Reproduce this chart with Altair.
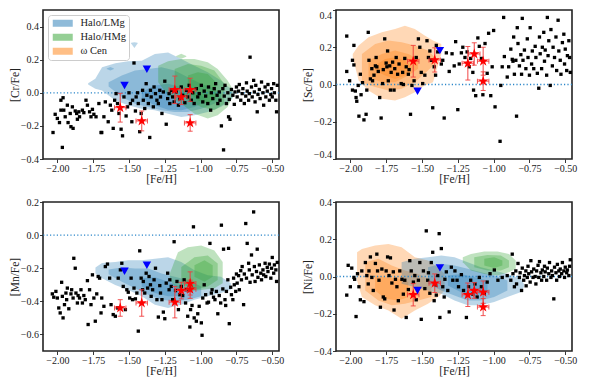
import altair as alt
import pandas as pd

FONT = "Liberation Serif, DejaVu Serif, serif"
X_DOMAIN = [-2.10, -0.453]
X_TICKS = [-2.0, -1.75, -1.5, -1.25, -1.0, -0.75, -0.5]
GROUPS = ["Halo/LMg", "Halo/HMg", "ω Cen"]
GROUP_COLORS = ["#1f77b4", "#2ca02c", "#ff7f0e"]

# programme stars (red stars) and upper limits (blue triangles)
STAR_FEH = [-1.561, -1.411, -1.18, -1.135, -1.073, -1.073]
STAR_FEH_ERR = [0.04, 0.04, 0.04, 0.04, 0.04, 0.04]
TRI_FEH = [-1.531, -1.375]

CR_STAR = [-0.09, -0.17, 0.018, -0.026, 0.018, -0.182]
CR_STAR_ERR = [0.087, 0.06, 0.083, 0.045, 0.07, 0.05]
CR_TRI = [0.044, 0.142]
SC_STAR = [0.125, 0.132, 0.114, 0.164, 0.125, 0.018]
SC_STAR_ERR = [0.085, 0.065, 0.09, 0.06, 0.075, 0.05]
SC_TRI = [-0.036, 0.182]
MN_STAR = [-0.44, -0.41, -0.405, -0.335, -0.327, -0.292]
MN_STAR_ERR = [0.05, 0.08, 0.095, 0.05, 0.055, 0.07]
MN_TRI = [-0.218, -0.182]
NI_STAR = [-0.098, -0.036, -0.098, -0.075, -0.084, -0.164]
NI_STAR_ERR = [0.06, 0.05, 0.063, 0.042, 0.06, 0.046]
NI_TRI = [-0.075, 0.046]

# comparison field stars ([Fe/H], [X/Fe])
CR_FIELD = [(-2.03,-0.24),(-2.015,-0.13),(-2.0,-0.155),(-1.985,-0.18),(-1.975,-0.105),(-1.975,-0.045),(-1.965,-0.33),(-1.96,-0.03),(-1.955,-0.105),(-1.945,-0.145),(-1.93,-0.075),(-1.925,-0.18),(-1.91,-0.125),(-1.905,-0.205),(-1.895,-0.085),(-1.89,-0.215),(-1.875,-0.11),(-1.865,-0.125),(-1.86,-0.16),(-1.85,-0.115),(-1.845,-0.145),(-1.825,-0.105),(-1.815,-0.12),(-1.8,-0.045),(-1.79,-0.075),(-1.775,-0.115),(-1.765,-0.145),(-1.755,-0.10),(-1.745,-0.13),(-1.73,-0.145),(-1.71,-0.065),(-1.695,-0.24),(-1.69,-0.24),(-1.675,-0.145),(-1.665,-0.055),(-1.645,-0.175),(-1.63,-0.075),(-1.62,-0.105),(-1.61,-0.215),(-1.6,-0.045),(-1.59,-0.005),(-1.58,-0.065),(-1.57,-0.125),(-1.555,-0.22),(-1.545,-0.26),(-1.535,-0.025),(-1.53,0.385),(-1.52,-0.14),(-1.51,-0.085),(-1.5,0.0),(-1.49,-0.065),(-1.48,-0.175),(-1.475,-0.045),(-1.465,0.18),(-1.455,-0.11),(-1.45,-0.025),(-1.44,0.0),(-1.435,-0.065),(-1.425,-0.235),(-1.415,-0.125),(-1.405,0.015),(-1.4,-0.045),(-1.39,-0.095),(-1.38,0.055),(-1.375,-0.015),(-1.365,-0.065),(-1.355,-0.27),(-1.35,0.015),(-1.345,-0.025),(-1.33,-0.085),(-1.325,0.035),(-1.315,-0.005),(-1.305,-0.045),(-1.295,-0.065),(-1.285,0.015),(-1.28,-0.025),(-1.27,-0.125),(-1.26,0.005),(-1.25,0.07),(-1.24,-0.19),(-1.23,-0.035),(-1.22,-0.005),(-1.215,-0.065),(-1.205,0.015),(-1.195,-0.025),(-1.185,-0.055),(-1.17,0.005),(-1.155,-0.075),(-1.145,-0.035),(-1.135,0.035),(-1.125,-0.015),(-1.11,-0.06),(-1.1,0.015),(-1.09,-0.025),(-1.08,0.045),(-1.065,-0.045),(-1.055,0.0),(-1.045,-0.065),(-1.03,0.025),(-1.02,-0.025),(-1.01,-0.005),(-0.995,0.045),(-0.985,-0.055),(-0.975,0.01),(-0.965,-0.02),(-0.95,-0.065),(-0.945,0.035),(-0.93,-0.105),(-0.925,0.0),(-0.915,-0.035),(-0.905,0.025),(-0.895,0.055),(-0.885,-0.015),(-0.88,-0.065),(-0.87,0.005),(-0.865,-0.045),(-0.855,-0.2),(-0.845,0.025),(-0.84,-0.345),(-0.835,-0.02),(-0.83,0.045),(-0.82,-0.065),(-0.81,0.0),(-0.805,-0.145),(-0.8,-0.04),(-0.795,-0.16),(-0.785,0.02),(-0.775,-0.015),(-0.765,-0.07),(-0.76,0.005),(-0.75,0.035),(-0.745,-0.025),(-0.735,0.01),(-0.73,0.05),(-0.72,-0.045),(-0.71,-0.005),(-0.705,0.025),(-0.695,-0.065),(-0.685,-0.02),(-0.68,0.06),(-0.675,0.01),(-0.665,-0.045),(-0.66,-0.005),(-0.655,0.215),(-0.645,0.035),(-0.64,-0.025),(-0.63,0.075),(-0.625,0.005),(-0.62,-0.055),(-0.615,0.045),(-0.605,-0.115),(-0.6,-0.01),(-0.59,0.02),(-0.585,-0.035),(-0.575,0.065),(-0.565,0.0),(-0.56,-0.075),(-0.55,0.035),(-0.545,-0.025),(-0.535,0.01),(-0.53,0.05),(-0.52,-0.045),(-0.51,-0.01),(-0.505,0.025),(-0.5,-0.025),(-0.49,0.055),(-0.485,0.0),(-0.475,-0.045),(-0.47,-0.115),(-0.465,0.045)]

SC_FIELD = [(-2.025,0.26),(-2.025,0.07),(-2.005,0.02),(-1.985,-0.03),(-1.985,0.13),(-1.975,0.105),(-1.975,0.21),(-1.965,-0.035),(-1.96,-0.07),(-1.955,-0.09),(-1.945,-0.005),(-1.94,-0.17),(-1.93,0.055),(-1.925,-0.055),(-1.915,0.01),(-1.905,-0.19),(-1.89,-0.16),(-1.885,-0.03),(-1.875,0.28),(-1.87,0.13),(-1.86,0.03),(-1.85,0.085),(-1.845,0.02),(-1.835,0.05),(-1.825,0.1),(-1.82,0.145),(-1.815,0.095),(-1.805,0.07),(-1.795,-0.07),(-1.785,-0.18),(-1.775,0.005),(-1.77,0.08),(-1.76,0.245),(-1.75,0.115),(-1.745,0.095),(-1.74,0.18),(-1.735,0.02),(-1.725,0.1),(-1.72,-0.03),(-1.715,0.065),(-1.705,0.12),(-1.695,-0.03),(-1.69,0.085),(-1.68,0.145),(-1.67,0.055),(-1.66,0.11),(-1.645,0.005),(-1.635,0.065),(-1.63,0.0),(-1.62,0.14),(-1.61,0.095),(-1.595,0.055),(-1.59,0.08),(-1.58,-0.16),(-1.57,-0.005),(-1.555,0.02),(-1.54,0.145),(-1.525,0.245),(-1.515,0.2),(-1.505,0.065),(-1.495,0.005),(-1.48,0.05),(-1.465,0.235),(-1.455,0.145),(-1.445,0.18),(-1.435,0.13),(-1.425,-0.125),(-1.415,0.095),(-1.405,0.05),(-1.4,0.21),(-1.39,0.175),(-1.365,0.11),(-1.355,0.13),(-1.345,-0.18),(-1.33,0.17),(-1.31,0.07),(-1.29,0.165),(-1.275,0.1),(-1.265,0.23),(-1.25,-0.135),(-1.24,0.11),(-1.225,0.17),(-1.215,0.2),(-1.2,0.145),(-1.185,0.175),(-1.17,0.095),(-1.16,0.14),(-1.145,0.065),(-1.14,-0.03),(-1.125,-0.06),(-1.11,0.25),(-1.1,0.205),(-1.085,0.14),(-1.075,-0.055),(-1.06,0.22),(-1.045,0.06),(-1.035,0.275),(-1.02,-0.06),(-1.01,0.095),(-1.0,0.29),(-0.99,-0.12),(-0.955,-0.305),(-0.95,-0.005),(-0.94,0.095),(-0.93,0.36),(-0.925,0.15),(-0.905,0.04),(-0.895,0.095),(-0.88,0.19),(-0.87,0.135),(-0.865,0.125),(-0.86,0.255),(-0.855,0.055),(-0.845,0.13),(-0.84,-0.17),(-0.835,0.305),(-0.83,0.22),(-0.82,0.1),(-0.81,0.16),(-0.805,0.055),(-0.8,0.355),(-0.795,0.13),(-0.785,0.185),(-0.775,0.085),(-0.765,0.245),(-0.76,0.145),(-0.75,0.05),(-0.745,0.305),(-0.735,0.11),(-0.73,0.18),(-0.72,0.085),(-0.71,0.205),(-0.705,0.145),(-0.695,0.06),(-0.685,-0.02),(-0.68,0.255),(-0.675,0.165),(-0.665,0.085),(-0.66,0.2),(-0.65,0.28),(-0.645,0.125),(-0.64,0.185),(-0.63,0.05),(-0.625,0.36),(-0.62,0.155),(-0.615,0.235),(-0.605,-0.005),(-0.6,0.295),(-0.59,0.1),(-0.585,0.2),(-0.575,0.145),(-0.565,0.255),(-0.56,0.075),(-0.55,0.345),(-0.545,0.18),(-0.535,0.13),(-0.53,0.055),(-0.52,0.225),(-0.51,0.27),(-0.505,0.11),(-0.5,0.19),(-0.49,0.075),(-0.485,0.155),(-0.475,0.235),(-0.47,0.145),(-0.465,0.065)]

MN_FIELD = [(-2.035,-0.355),(-2.025,-0.375),(-2.01,-0.34),(-2.0,-0.38),(-1.99,-0.44),(-1.98,-0.47),(-1.97,-0.285),(-1.965,-0.37),(-1.96,-0.5),(-1.95,-0.42),(-1.94,-0.35),(-1.935,-0.39),(-1.93,-0.32),(-1.92,-0.445),(-1.905,-0.355),(-1.9,-0.33),(-1.89,-0.38),(-1.885,-0.14),(-1.875,-0.2),(-1.87,-0.35),(-1.86,-0.41),(-1.855,-0.365),(-1.845,-0.38),(-1.835,-0.33),(-1.825,-0.41),(-1.815,-0.365),(-1.805,-0.39),(-1.79,-0.275),(-1.785,-0.54),(-1.775,-0.33),(-1.765,-0.42),(-1.755,-0.24),(-1.745,-0.38),(-1.735,-0.52),(-1.725,-0.355),(-1.715,-0.25),(-1.705,-0.26),(-1.695,-0.47),(-1.69,-0.38),(-1.675,-0.43),(-1.665,-0.19),(-1.65,-0.175),(-1.635,-0.26),(-1.625,-0.42),(-1.61,-0.48),(-1.595,-0.49),(-1.58,-0.44),(-1.575,-0.26),(-1.56,-0.21),(-1.55,-0.17),(-1.54,-0.31),(-1.525,-0.45),(-1.515,-0.33),(-1.505,-0.345),(-1.495,-0.38),(-1.485,-0.26),(-1.475,-0.39),(-1.465,-0.32),(-1.455,-0.385),(-1.445,-0.35),(-1.435,-0.58),(-1.425,-0.095),(-1.415,-0.26),(-1.405,-0.33),(-1.4,-0.28),(-1.39,-0.35),(-1.38,-0.23),(-1.37,-0.32),(-1.36,-0.25),(-1.35,-0.3),(-1.345,-0.37),(-1.335,-0.33),(-1.325,-0.27),(-1.315,-0.2),(-1.305,-0.39),(-1.295,-0.495),(-1.285,-0.305),(-1.28,-0.35),(-1.27,-0.39),(-1.26,-0.465),(-1.25,-0.505),(-1.24,-0.29),(-1.23,-0.23),(-1.22,-0.33),(-1.215,-0.27),(-1.205,-0.31),(-1.195,-0.39),(-1.185,-0.04),(-1.175,-0.335),(-1.165,-0.28),(-1.155,-0.45),(-1.145,-0.36),(-1.135,-0.31),(-1.125,-0.365),(-1.115,-0.27),(-1.105,-0.41),(-1.1,-0.33),(-1.09,-0.49),(-1.075,-0.555),(-1.07,-0.45),(-1.06,-0.425),(-1.05,0.05),(-1.045,-0.5),(-1.03,-0.52),(-1.02,-0.475),(-1.01,-0.43),(-0.995,-0.53),(-0.99,-0.605),(-0.985,-0.38),(-0.975,-0.3),(-0.965,-0.36),(-0.955,-0.41),(-0.945,-0.405),(-0.935,-0.05),(-0.925,-0.35),(-0.92,-0.33),(-0.91,-0.375),(-0.9,-0.39),(-0.89,-0.34),(-0.88,-0.475),(-0.87,-0.365),(-0.86,-0.41),(-0.855,0.06),(-0.845,-0.325),(-0.84,-0.085),(-0.83,-0.39),(-0.825,-0.425),(-0.82,-0.34),(-0.81,-0.27),(-0.805,-0.08),(-0.8,-0.535),(-0.79,-0.315),(-0.785,-0.36),(-0.775,-0.39),(-0.77,-0.26),(-0.765,-0.3),(-0.755,-0.34),(-0.75,-0.235),(-0.745,-0.29),(-0.735,-0.245),(-0.73,-0.33),(-0.72,-0.215),(-0.715,-0.27),(-0.71,-0.19),(-0.7,-0.42),(-0.695,-0.235),(-0.685,0.07),(-0.68,-0.26),(-0.675,-0.05),(-0.665,-0.17),(-0.66,-0.21),(-0.655,-0.285),(-0.645,-0.12),(-0.64,-0.24),(-0.63,0.14),(-0.625,-0.19),(-0.62,-0.28),(-0.61,-0.22),(-0.605,-0.085),(-0.6,-0.255),(-0.59,-0.18),(-0.58,-0.23),(-0.575,-0.27),(-0.565,-0.21),(-0.56,-0.24),(-0.55,-0.17),(-0.545,-0.25),(-0.535,-0.195),(-0.53,-0.22),(-0.52,-0.175),(-0.51,-0.26),(-0.505,-0.2),(-0.5,-0.135),(-0.49,-0.23),(-0.485,-0.18),(-0.475,-0.21),(-0.47,-0.28),(-0.465,-0.165)]

NI_FIELD = [(-2.025,-0.1),(-2.015,0.06),(-2.0,-0.055),(-1.99,0.045),(-1.975,-0.005),(-1.97,-0.015),(-1.96,-0.215),(-1.95,0.015),(-1.94,-0.055),(-1.93,-0.125),(-1.92,0.03),(-1.905,-0.135),(-1.895,0.075),(-1.885,0.005),(-1.875,-0.04),(-1.87,0.03),(-1.86,0.105),(-1.85,-0.005),(-1.84,-0.075),(-1.825,0.07),(-1.815,0.12),(-1.81,0.03),(-1.8,-0.02),(-1.79,-0.165),(-1.78,0.04),(-1.77,-0.11),(-1.76,-0.12),(-1.75,0.03),(-1.74,0.105),(-1.73,0.005),(-1.72,0.1),(-1.71,-0.035),(-1.7,0.025),(-1.695,-0.18),(-1.685,-0.015),(-1.675,-0.055),(-1.665,-0.13),(-1.655,0.03),(-1.64,-0.015),(-1.63,-0.095),(-1.62,-0.02),(-1.61,-0.22),(-1.595,-0.07),(-1.585,0.085),(-1.575,0.03),(-1.56,-0.03),(-1.55,0.005),(-1.54,-0.125),(-1.525,-0.02),(-1.515,0.075),(-1.505,-0.23),(-1.49,0.03),(-1.48,-0.065),(-1.47,0.245),(-1.46,-0.02),(-1.455,0.02),(-1.445,-0.09),(-1.435,0.075),(-1.425,0.13),(-1.415,-0.13),(-1.405,-0.045),(-1.4,-0.1),(-1.39,0.005),(-1.38,0.23),(-1.375,-0.22),(-1.365,0.15),(-1.355,-0.055),(-1.345,-0.11),(-1.34,-0.015),(-1.33,0.025),(-1.32,-0.075),(-1.31,-0.19),(-1.295,0.05),(-1.285,-0.02),(-1.27,0.03),(-1.255,-0.02),(-1.245,-0.055),(-1.225,0.01),(-1.21,-0.075),(-1.19,-0.22),(-1.175,-0.055),(-1.16,-0.02),(-1.145,-0.095),(-1.13,-0.04),(-1.115,-0.11),(-1.1,-0.005),(-1.085,-0.055),(-1.065,-0.09),(-1.045,-0.03),(-1.025,0.015),(-0.995,0.035),(-0.97,-0.02),(-0.94,-0.005),(-0.905,0.005),(-0.88,-0.02),(-0.87,0.12),(-0.865,0.015),(-0.855,-0.055),(-0.845,0.03),(-0.84,-0.04),(-0.83,0.07),(-0.82,-0.005),(-0.815,0.02),(-0.805,-0.075),(-0.8,0.045),(-0.79,-0.02),(-0.785,0.005),(-0.775,0.03),(-0.773,-0.05),(-0.765,-0.005),(-0.76,0.055),(-0.755,0.015),(-0.745,-0.03),(-0.74,0.085),(-0.735,0.025),(-0.725,-0.005),(-0.72,0.04),(-0.71,0.0),(-0.705,-0.04),(-0.7,0.03),(-0.69,0.06),(-0.685,-0.005),(-0.68,0.08),(-0.67,0.02),(-0.665,-0.02),(-0.66,0.035),(-0.65,0.0),(-0.645,0.055),(-0.64,0.025),(-0.63,-0.02),(-0.625,0.045),(-0.615,0.015),(-0.61,0.075),(-0.6,-0.005),(-0.595,0.03),(-0.59,0.005),(-0.58,-0.12),(-0.575,0.05),(-0.565,0.02),(-0.56,-0.02),(-0.555,0.065),(-0.545,0.03),(-0.54,0.0),(-0.535,0.04),(-0.525,0.015),(-0.52,0.075),(-0.51,0.03),(-0.505,-0.005),(-0.5,0.05),(-0.49,0.02),(-0.485,0.035),(-0.475,0.005),(-0.47,0.055),(-0.465,0.09)]

# density contours: (population, [([Fe/H], lower, upper), ...]), one entry per filled level
CR_CONTOURS = [
    ("Halo/LMg", [(-1.785,0.050,0.058),(-1.735,0.024,0.084),(-1.688,0.014,0.154),(-1.595,-0.046,0.178),(-1.505,-0.076,0.19),(-1.411,-0.096,0.194),(-1.319,-0.106,0.234),(-1.227,-0.126,0.244),(-1.135,-0.146,0.204),(-1.043,-0.136,0.164),(-0.95,-0.116,0.124),(-0.858,-0.086,0.074),(-0.789,-0.046,0.024),(-0.765,-0.016,-0.006)]),
    ("Halo/LMg", [(-1.642,0.038,0.064),(-1.55,-0.026,0.104),(-1.458,-0.066,0.134),(-1.365,-0.086,0.144),(-1.273,-0.106,0.154),(-1.181,-0.116,0.134),(-1.089,-0.116,0.094),(-0.996,-0.096,0.054),(-0.904,-0.066,0.024),(-0.858,-0.036,-0.006)]),
    ("Halo/LMg", [(-1.411,-0.036,0.004),(-1.319,-0.076,0.044),(-1.227,-0.102,0.054),(-1.135,-0.106,0.034),(-1.043,-0.086,0.004),(-0.973,-0.056,-0.026)]),
    ("Halo/LMg", [(-1.485,0.298,0.302),(-1.462,0.27,0.305),(-1.44,0.298,0.302)]),
    ("Halo/LMg", [(-1.655,0.144,0.146),(-1.63,0.135,0.155),(-1.605,0.144,0.146)]),
    ("Halo/HMg", [(-1.296,0.064,0.164),(-1.227,-0.016,0.19),(-1.135,-0.066,0.204),(-1.043,-0.126,0.204),(-0.95,-0.156,0.184),(-0.881,-0.136,0.144),(-0.812,-0.086,0.074),(-0.777,-0.026,0.024)]),
    ("Halo/HMg", [(-1.181,0.034,0.144),(-1.089,-0.046,0.174),(-0.996,-0.086,0.164),(-0.904,-0.106,0.134),(-0.835,-0.066,0.054)]),
    ("Halo/HMg", [(-1.089,0.014,0.104),(-1.019,-0.046,0.124),(-0.95,-0.066,0.114),(-0.893,-0.036,0.064)]),
    ("Halo/HMg", [(-1.17,0.218,0.222),(-1.135,0.205,0.235),(-1.1,0.218,0.222)]),
]
SC_CONTOURS = [
    ("ω Cen", [(-1.983,0.146,0.164),(-1.942,0.021,0.209),(-1.873,-0.032,0.254),(-1.78,-0.077,0.28),(-1.688,-0.086,0.298),(-1.619,-0.068,0.316),(-1.55,-0.041,0.298),(-1.481,-0.005,0.263),(-1.423,0.0125,0.236),(-1.365,0.164,0.218)]),
    ("ω Cen", [(-1.919,0.0125,0.164),(-1.827,-0.014,0.218),(-1.734,-0.032,0.236),(-1.642,-0.023,0.227),(-1.55,0.0125,0.209),(-1.458,0.075,0.182),(-1.411,0.11,0.146)]),
    ("ω Cen", [(-1.873,0.039,0.129),(-1.78,0.0125,0.164),(-1.688,0.0125,0.182),(-1.596,0.048,0.164),(-1.527,0.084,0.1375)]),
    ("ω Cen", [(-1.827,0.075,0.102),(-1.757,0.048,0.1375),(-1.688,0.03,0.146),(-1.619,0.048,0.129),(-1.584,0.075,0.102)]),
]
MN_CONTOURS = [
    ("Halo/LMg", [(-1.734,-0.232,-0.196),(-1.688,-0.261,-0.168),(-1.596,-0.301,-0.162),(-1.504,-0.331,-0.152),(-1.411,-0.37,-0.152),(-1.319,-0.42,-0.143),(-1.227,-0.44,-0.133),(-1.135,-0.42,-0.162),(-1.043,-0.39,-0.212),(-0.95,-0.37,-0.242),(-0.858,-0.35,-0.251),(-0.789,-0.33,-0.291)]),
    ("Halo/LMg", [(-1.642,-0.236,-0.208),(-1.55,-0.281,-0.196),(-1.458,-0.321,-0.202),(-1.365,-0.36,-0.202),(-1.273,-0.39,-0.232),(-1.181,-0.40,-0.251),(-1.089,-0.39,-0.271),(-0.996,-0.37,-0.311)]),
    ("Halo/LMg", [(-1.411,-0.311,-0.261),(-1.319,-0.35,-0.255),(-1.227,-0.37,-0.281),(-1.135,-0.37,-0.311)]),
    ("Halo/HMg", [(-1.215,-0.271,-0.232),(-1.158,-0.331,-0.103),(-1.089,-0.341,-0.073),(-0.996,-0.331,-0.063),(-0.904,-0.321,-0.093),(-0.846,-0.291,-0.162)]),
    ("Halo/HMg", [(-1.135,-0.291,-0.192),(-1.043,-0.331,-0.133),(-0.95,-0.311,-0.123),(-0.881,-0.271,-0.172)]),
    ("Halo/HMg", [(-1.043,-0.251,-0.182),(-0.973,-0.281,-0.152),(-0.916,-0.251,-0.182)]),
]
NI_CONTOURS = [
    ("ω Cen", [(-1.953,-0.021,0.13),(-1.919,-0.11,0.148),(-1.827,-0.155,0.166),(-1.734,-0.182,0.175),(-1.642,-0.227,0.157),(-1.55,-0.182,0.104),(-1.458,-0.146,0.086),(-1.388,-0.11,0.05),(-1.342,-0.075,0.014)]),
    ("ω Cen", [(-1.896,-0.075,0.077),(-1.804,-0.129,0.095),(-1.711,-0.155,0.059),(-1.619,-0.146,0.032),(-1.527,-0.129,0.014),(-1.435,-0.11,-0.021)]),
    ("ω Cen", [(-1.827,-0.075,0.005),(-1.757,-0.12,-0.004),(-1.665,-0.129,-0.0125),(-1.596,-0.11,-0.03)]),
    ("Halo/LMg", [(-1.642,-0.039,0.077),(-1.55,-0.057,0.095),(-1.458,-0.075,0.104),(-1.365,-0.093,0.1125),(-1.273,-0.129,0.104),(-1.181,-0.155,0.077),(-1.089,-0.155,0.05),(-0.996,-0.1375,0.032),(-0.904,-0.11,0.014),(-0.812,-0.084,-0.0125),(-0.789,-0.057,-0.039)]),
    ("Halo/LMg", [(-1.458,-0.039,0.05),(-1.365,-0.075,0.068),(-1.273,-0.102,0.059),(-1.181,-0.129,0.041),(-1.089,-0.129,0.023),(-0.996,-0.11,0.005),(-0.904,-0.075,-0.021)]),
    ("Halo/LMg", [(-1.319,-0.048,0.005),(-1.227,-0.084,0.014),(-1.135,-0.102,-0.004),(-1.043,-0.084,-0.021)]),
    ("Halo/HMg", [(-1.215,0.077,0.104),(-1.158,0.032,0.121),(-1.065,0.014,0.134),(-0.973,0.005,0.134),(-0.893,0.023,0.121),(-0.846,0.041,0.086)]),
    ("Halo/HMg", [(-1.135,0.05,0.104),(-1.043,0.032,0.116),(-0.95,0.032,0.1125),(-0.893,0.05,0.086)]),
    ("Halo/HMg", [(-1.065,0.059,0.095),(-0.996,0.046,0.104),(-0.939,0.059,0.086)]),
]

STAR_PATH = ("M0,-1L0.2245,-0.309L0.951,-0.309L0.363,0.118L0.588,0.809L0,0.382"
             "L-0.588,0.809L-0.363,0.118L-0.951,-0.309L-0.2245,-0.309Z")
PATCH_PATH = "M-1,-1H4.714V1H-1Z"


def panel(ytitle, ydomain, yticks, field, star_y, star_err, tri_y, contours, show_legend, flush=False):
    xsc = alt.Scale(domain=X_DOMAIN, nice=False, zero=False)
    ysc = alt.Scale(domain=ydomain, nice=False, zero=False)
    xax = alt.Axis(values=X_TICKS, format=".2f", title="[Fe/H]", labelPadding=1, titlePadding=0)
    yax = alt.Axis(values=yticks, format=".1f", title=ytitle, labelPadding=1, titlePadding=0,
                   labelFlush=flush)

    def X(f):
        return alt.X(f, type="quantitative", scale=xsc, axis=xax)

    def Y(f):
        return alt.Y(f, type="quantitative", scale=ysc, axis=yax, stack=None)

    rows = []
    for i, (grp, pts) in enumerate(contours):
        for (x, lo, hi) in pts:
            rows.append({"piece": f"p{i:02d}", "group": grp, "x": x, "lo": lo, "hi": hi})
    cdf = pd.DataFrame(rows)
    if show_legend:
        legend = alt.Legend(orient="top-left", offset=5, title=None,
                            symbolType=PATCH_PATH, symbolSize=49, symbolOpacity=0.5,
                            symbolStrokeWidth=0, labelFont=FONT, labelFontSize=10.5,
                            labelColor="#222222", labelOffset=19, padding=3,
                            rowPadding=3, strokeColor="#cccccc", fillColor="white",
                            cornerRadius=3)
    else:
        legend = None
    area = alt.Chart(cdf).mark_area(opacity=0.3, clip=True).encode(
        x=X("x"), y=Y("lo"), y2="hi",
        color=alt.Color("group:N", scale=alt.Scale(domain=GROUPS, range=GROUP_COLORS), legend=legend),
        detail="piece:N",
    )
    zero = alt.Chart(pd.DataFrame({"y0": [0.0]})).mark_rule(
        color="#2b86c9", strokeDash=[1.2, 2.2], strokeWidth=1.3).encode(y=Y("y0"))

    fdf = pd.DataFrame(field, columns=["feh", "val"])
    pts = alt.Chart(fdf).mark_square(size=11, color="black", opacity=1, clip=True).encode(
        x=X("feh"), y=Y("val"))

    sdf = pd.DataFrame({
        "feh": STAR_FEH, "val": star_y,
        "ylo": [v - e for v, e in zip(star_y, star_err)],
        "yhi": [v + e for v, e in zip(star_y, star_err)],
        "xlo": [v - e for v, e in zip(STAR_FEH, STAR_FEH_ERR)],
        "xhi": [v + e for v, e in zip(STAR_FEH, STAR_FEH_ERR)],
    })
    ecol = "#f03a3a"
    vbar = alt.Chart(sdf).mark_rule(color=ecol, strokeWidth=1.1, opacity=0.85).encode(
        x=X("feh"), y=Y("ylo"), y2="yhi")
    hbar = alt.Chart(sdf).mark_rule(color=ecol, strokeWidth=1.1, opacity=0.85).encode(
        y=Y("val"), x=X("xlo"), x2="xhi")
    cap_lo = alt.Chart(sdf).mark_tick(orient="horizontal", size=5, thickness=1, color=ecol, opacity=0.85).encode(
        x=X("feh"), y=Y("ylo"))
    cap_hi = alt.Chart(sdf).mark_tick(orient="horizontal", size=5, thickness=1, color=ecol, opacity=0.85).encode(
        x=X("feh"), y=Y("yhi"))
    cap_l = alt.Chart(sdf).mark_tick(orient="vertical", size=5, thickness=1, color=ecol, opacity=0.85).encode(
        x=X("xlo"), y=Y("val"))
    cap_r = alt.Chart(sdf).mark_tick(orient="vertical", size=5, thickness=1, color=ecol, opacity=0.85).encode(
        x=X("xhi"), y=Y("val"))
    stars = alt.Chart(sdf).mark_point(shape=STAR_PATH, filled=True, size=125, color="#ff0000",
                                      opacity=1, strokeWidth=0).encode(x=X("feh"), y=Y("val"))
    tdf = pd.DataFrame({"feh": TRI_FEH, "val": tri_y})
    tris = alt.Chart(tdf).mark_point(shape="triangle-down", filled=True, size=72, color="#0000ff",
                                     opacity=1, strokeWidth=0).encode(x=X("feh"), y=Y("val"))
    return alt.layer(area, zero, pts, vbar, hbar, cap_lo, cap_hi, cap_l, cap_r, stars, tris).properties(
        width=236, height=149)


yt4 = [-0.4, -0.2, 0.0, 0.2, 0.4]
tl = panel("[Cr/Fe]", [-0.4, 0.5], yt4, CR_FIELD, CR_STAR, CR_STAR_ERR, CR_TRI, CR_CONTOURS, True)
tr = panel("[Sc/Fe]", [-0.4, 0.4], yt4, SC_FIELD, SC_STAR, SC_STAR_ERR, SC_TRI, SC_CONTOURS, False, flush=True)
bl = panel("[Mn/Fe]", [-0.7, 0.2], [-0.6, -0.4, -0.2, 0.0, 0.2], MN_FIELD, MN_STAR, MN_STAR_ERR, MN_TRI, MN_CONTOURS, False)
br = panel("[Ni/Fe]", [-0.4, 0.4], yt4, NI_FIELD, NI_STAR, NI_STAR_ERR, NI_TRI, NI_CONTOURS, False)

chart = alt.concat(tl, tr, bl, br, columns=2, spacing={"row": 43, "column": 57},
                   bounds="flush", padding=0).resolve_scale(color="independent").configure_view(
    stroke="#222222", strokeWidth=1.6).configure_axis(
    grid=False, domain=False, ticks=True, tickSize=3.5, tickWidth=0.9, tickColor="#222222",
    labelFont=FONT, labelFontSize=10, labelColor="#222222",
    titleFont=FONT, titleFontSize=11.5, titleFontWeight="normal", titleColor="#222222")

chart.save("out.html", embed_options={"renderer": "svg", "actions": False})
